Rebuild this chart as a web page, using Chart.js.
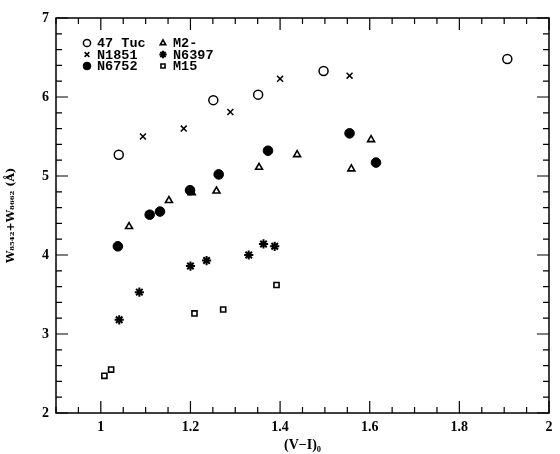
<!DOCTYPE html>
<html><head><meta charset="utf-8">
<style>html,body{margin:0;padding:0;background:#fff}#wrap{width:560px;height:454px}</style>
<script src="https://cdn.jsdelivr.net/npm/chart.js@4/dist/chart.umd.min.js"></script>
</head><body><div id="wrap"><canvas id="c" width="560" height="454"></canvas></div>
<script>
const seriesNames = ['47 Tuc','N1851','N6752','M2-','N6397','M15'];
const tuc47X = [1.040,1.251,1.351,1.497,1.907];
const tuc47Y = [5.27,5.96,6.03,6.33,6.48];
const n1851X = [1.094,1.185,1.289,1.400,1.555];
const n1851Y = [5.50,5.60,5.81,6.23,6.27];
const n6752X = [1.038,1.109,1.132,1.199,1.263,1.373,1.555,1.614];
const n6752Y = [4.11,4.51,4.55,4.82,5.02,5.32,5.54,5.17];
const m2X = [1.063,1.152,1.203,1.258,1.353,1.438,1.559,1.603];
const m2Y = [4.36,4.69,4.79,4.81,5.11,5.27,5.09,5.46];
const n6397X = [1.041,1.086,1.200,1.236,1.330,1.363,1.388];
const n6397Y = [3.18,3.53,3.86,3.93,4.00,4.14,4.11];
const m15X = [1.008,1.023,1.209,1.273,1.392];
const m15Y = [2.47,2.55,3.26,3.31,3.62];
const xRange = [0.9, 2];
const yRange = [2, 7];

function pts(xs, ys){ return xs.map((x,i)=>({x:x,y:ys[i]})); }

const styles = [
  {pointStyle:'circle', radius:4.5, fill:'#fff', lw:1.5},
  {pointStyle:'crossRot', radius:4.2, fill:'#000', lw:1.5},
  {pointStyle:'circle', radius:4.8, fill:'#000', lw:1},
  {pointStyle:'triangle', radius:4.0, fill:'#fff', lw:1.6},
  {pointStyle:'star', radius:4.6, fill:'#000', lw:2},
  {pointStyle:'rect', radius:3.6, fill:'#fff', lw:1.6}
];
const allData = [pts(tuc47X,tuc47Y),pts(n1851X,n1851Y),pts(n6752X,n6752Y),pts(m2X,m2Y),pts(n6397X,n6397Y),pts(m15X,m15Y)];

const datasets = seriesNames.map((n,i)=>({
  label:n, data:allData[i], showLine:false,
  pointStyle:styles[i].pointStyle, pointRadius:styles[i].radius, pointHoverRadius:styles[i].radius,
  pointBackgroundColor:styles[i].fill, pointBorderColor:'#000', pointBorderWidth:styles[i].lw
}));

const isMajor = (v, step) => Math.abs(v/step - Math.round(v/step)) < 1e-6;

const framePlugin = {
  id:'frame',
  afterDraw(chart){
    const ctx = chart.ctx, a = chart.chartArea;
    const xs = chart.scales.x, ys = chart.scales.y;
    ctx.save();
    ctx.strokeStyle = '#000'; ctx.lineWidth = 1.5;
    ctx.strokeRect(a.left, a.top, a.right-a.left, a.bottom-a.top);
    ctx.lineWidth = 1.2;
    ctx.beginPath();
    xs.ticks.forEach(t=>{
      const p = xs.getPixelForValue(t.value);
      const L = isMajor(t.value,0.2) ? 12 : 6;
      ctx.moveTo(p, a.bottom); ctx.lineTo(p, a.bottom-L);
      ctx.moveTo(p, a.top); ctx.lineTo(p, a.top+L);
    });
    ys.ticks.forEach(t=>{
      const p = ys.getPixelForValue(t.value);
      const L = isMajor(t.value,1) ? 12 : 6;
      ctx.moveTo(a.left, p); ctx.lineTo(a.left+L, p);
      ctx.moveTo(a.right, p); ctx.lineTo(a.right-L, p);
    });
    ctx.stroke();
    // legend
    const col = [[0,1,2],[3,4,5]];
    const colX = [a.left+31, a.left+107];
    const rowY = [a.top+25, a.top+36.5, a.top+48];
    ctx.font = 'bold 13.5px "Liberation Mono", monospace';
    ctx.fillStyle = '#000'; ctx.textBaseline = 'middle'; ctx.textAlign='left';
    col.forEach((c,ci)=>c.forEach((di,ri)=>{
      const s = styles[di];
      ctx.lineWidth = s.lw; ctx.fillStyle = s.fill; ctx.strokeStyle='#000';
      Chart.helpers.drawPoint(ctx, {pointStyle:s.pointStyle, radius:s.radius*0.8, borderWidth:s.lw}, colX[ci], rowY[ri]);
      ctx.fillStyle = '#000';
      ctx.fillText(seriesNames[di], colX[ci]+10, rowY[ri]+1);
    }));
    ctx.restore();
  }
};

const tickFont = {family:'"Liberation Serif", serif', size:14, weight:'bold'};
new Chart(document.getElementById('c'), {
  type:'scatter',
  data:{datasets},
  options:{
    responsive:false, animation:false, devicePixelRatio:1,
    layout:{padding:{top:18, right:11, left:0, bottom:0}},
    plugins:{legend:{display:false}, tooltip:{enabled:false}},
    scales:{
      x:{type:'linear', min:xRange[0], max:xRange[1],
        grid:{display:false, drawTicks:false}, border:{display:false},
        ticks:{stepSize:0.05, autoSkip:false, maxRotation:0, padding:6, color:'#000', font:tickFont,
          callback:(v)=> isMajor(v,0.2) ? String(Math.round(v*10)/10) : ''},
        title:{display:true, text:'(V\u2212I)\u2080', color:'#000', font:{family:'"Liberation Serif", serif', size:14, weight:'bold'}, padding:{top:-7,bottom:0}},
        afterFit:(s)=>{ s.height = 41; }
      },
      y:{type:'linear', min:yRange[0], max:yRange[1],
        grid:{display:false, drawTicks:false}, border:{display:false},
        ticks:{stepSize:0.2, autoSkip:false, padding:7, color:'#000', font:tickFont,
          callback:(v)=> isMajor(v,1) ? String(Math.round(v)) : ''},
        title:{display:true, text:'W\u2088\u2085\u2084\u2082+W\u2088\u2086\u2086\u2082 (\u00C5)', color:'#000', font:{family:'"DejaVu Serif", serif', size:11, weight:'bold'}, padding:{top:5,bottom:0}},
        afterFit:(s)=>{ s.width = 56; }
      }
    }
  },
  plugins:[framePlugin]
});
</script></body></html>
